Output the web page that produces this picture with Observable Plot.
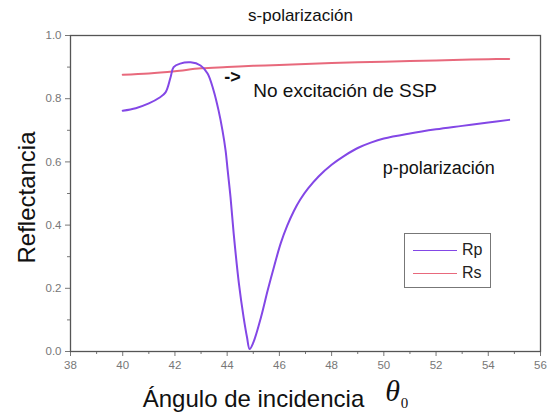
<!DOCTYPE html>
<html>
<head>
<meta charset="utf-8">
<script src="https://cdn.jsdelivr.net/npm/d3@7"></script>
<script src="https://cdn.jsdelivr.net/npm/@observablehq/plot@0.6"></script>
<style>
  body { margin: 0; background: #fff; }
  #chart { position: relative; width: 547px; height: 416px; font-family: "Liberation Sans", Arial, sans-serif; }
  .legend { position: absolute; left: 404px; top: 233px; width: 87px; height: 55px; border: 1.5px solid #777; box-sizing: border-box; background: #fff; }
  .legend .row { position: absolute; left: 8px; height: 20px; display: flex; align-items: center; }
  .legend .swatch { width: 44px; height: 0; border-top: 1.5px solid; margin-right: 5px; }
  .legend .lab { font-size: 16px; color: #222; }
</style>
</head>
<body>
<div id="chart"></div>
<script>
// Angle of incidence (degrees) and reflectance for p-polarised light
const rpAngle = [40.0, 40.5, 41.0, 41.4, 41.64, 41.83, 41.95, 42.2, 42.6, 42.98, 43.25, 43.48, 43.67, 43.82, 43.94,
  44.02, 44.13, 44.25, 44.45, 44.63, 44.76, 44.86, 45.0, 45.3, 45.55, 45.8, 46.05, 46.3, 46.55, 46.8, 47.1, 47.5,
  48.0, 48.5, 49.0, 49.5, 50.0, 51.0, 52.0, 53.0, 54.0, 54.8];
const rpValue = [0.762, 0.770, 0.785, 0.803, 0.820, 0.867, 0.900, 0.911, 0.915, 0.905, 0.880, 0.826, 0.763, 0.700, 0.636,
  0.573, 0.487, 0.373, 0.215, 0.108, 0.045, 0.008, 0.028, 0.11, 0.193, 0.27, 0.342, 0.398, 0.444, 0.481, 0.516, 0.554,
  0.591, 0.620, 0.644, 0.661, 0.674, 0.690, 0.703, 0.714, 0.725, 0.733];

// Reflectance for s-polarised light
const rsAngle = [40, 41, 42, 43, 44, 45, 46, 47, 48, 49, 50, 51, 52, 53, 54, 54.8];
const rsValue = [0.876, 0.880, 0.887, 0.896, 0.900, 0.904, 0.907, 0.910, 0.913, 0.915, 0.917, 0.919, 0.921, 0.923, 0.925, 0.926];

// Axis ticks
const xMajor = [38, 40, 42, 44, 46, 48, 50, 52, 54, 56];
const xMinor = [39, 41, 43, 45, 47, 49, 51, 53, 55];
const yMajor = [0.0, 0.2, 0.4, 0.6, 0.8, 1.0];
const yMinor = [0.1, 0.3, 0.5, 0.7, 0.9];

const rpColor = "#8347e6";
const rsColor = "#e8697c";

const rp = rpAngle.map((a, i) => ({angle: a, r: rpValue[i]}));
const rs = rsAngle.map((a, i) => ({angle: a, r: rsValue[i]}));

const fmtY = d3.format(".1f");
const tickColor = "#777";

// labels placed relative to the frame's top-left corner, centred on their point
const label = (text, dx, dy, opts = {}) =>
  Plot.text([text], {frameAnchor: "top-left", dx, dy, textAnchor: "middle", lineAnchor: "middle", fill: "#111", ...opts});

const plot = Plot.plot({
  width: 547,
  height: 416,
  marginLeft: 70,
  marginRight: 7,
  marginTop: 35,
  marginBottom: 65,
  x: {domain: [38, 56]},
  y: {domain: [0, 1]},
  style: {fontFamily: "Liberation Sans, Arial, sans-serif", background: "white", overflow: "visible"},
  marks: [
    Plot.axisX({ticks: xMajor, tickSize: 5, tickPadding: 4, fontSize: 11.5, color: tickColor, label: null}),
    Plot.axisX({ticks: xMinor, tickSize: 3, tickFormat: () => "", color: tickColor, label: null}),
    Plot.axisY({ticks: yMajor, tickSize: 5, tickPadding: 4, fontSize: 11.5, color: tickColor, tickFormat: fmtY, label: null}),
    Plot.axisY({ticks: yMinor, tickSize: 3, tickFormat: () => "", color: tickColor, label: null}),
    Plot.frame({stroke: "#555", strokeWidth: 1.3}),
    Plot.line(rs, {x: "angle", y: "r", stroke: rsColor, strokeWidth: 2, curve: "catmull-rom"}),
    Plot.line(rp, {x: "angle", y: "r", stroke: rpColor, strokeWidth: 2, curve: "catmull-rom"}),
    // titles and axis labels
    label("s-polarización", 230, -20, {fontSize: 17}),
    label("Reflectancia", -43, 162, {rotate: -90, fontSize: 24}),
    label("Ángulo de incidencia", 183, 364, {fontSize: 24}),
    label("θ", 322, 356, {fontSize: 30, fontStyle: "italic", fontFamily: "Liberation Serif, DejaVu Serif, serif"}),
    label("0", 334, 368, {fontSize: 15, fontFamily: "Liberation Serif, DejaVu Serif, serif"}),
    // in-plot annotations
    Plot.text(["->"], {x: 44.2, y: 0.868, fontSize: 18, fontWeight: "bold", fill: "#111"}),
    Plot.text(["No excitación de SSP"], {x: 45.0, y: 0.826, textAnchor: "start", fontSize: 19, fill: "#111"}),
    Plot.text(["p-polarización"], {x: 52.1, y: 0.579, fontSize: 18, fill: "#111"})
  ]
});

const chart = document.getElementById("chart");
chart.appendChild(plot);

// legend box
const legend = document.createElement("div");
legend.className = "legend";
[["Rp", rpColor, 6], ["Rs", rsColor, 29]].forEach(([name, color, top]) => {
  const row = document.createElement("div");
  row.className = "row";
  row.style.top = top + "px";
  const sw = document.createElement("div");
  sw.className = "swatch";
  sw.style.borderTopColor = color;
  const lab = document.createElement("span");
  lab.className = "lab";
  lab.textContent = name;
  row.appendChild(sw);
  row.appendChild(lab);
  legend.appendChild(row);
});
chart.appendChild(legend);
</script>
</body>
</html>
